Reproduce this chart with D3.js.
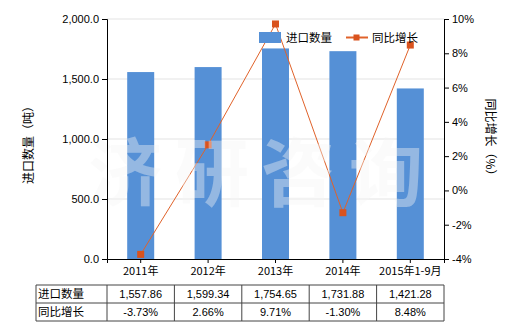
<!DOCTYPE html>
<html><head><meta charset="utf-8">
<script src="https://cdn.jsdelivr.net/npm/d3@7"></script>
<style>body{margin:0;background:#fff}svg{display:block}</style>
</head><body>
<svg id="c" width="520" height="330"></svg>
<script>
const categories = ["2011年","2012年","2013年","2014年","2015年1-9月"];
const importQty = [1557.86,1599.34,1754.65,1731.88,1421.28];
const yoyGrowth = [-3.73,2.66,9.71,-1.30,8.48];
const qtyLabels = ["1,557.86","1,599.34","1,754.65","1,731.88","1,421.28"];
const growthLabels = ["-3.73%","2.66%","9.71%","-1.30%","8.48%"];
const leftTicks = [0,500,1000,1500,2000];
const rightTicks = [-4,-2,0,2,4,6,8,10];
const seriesNames = ["进口数量","同比增长"];

const svg = d3.select("#c");
const m = {l:107, r:444, t:19, b:259};
const numFont = "Liberation Sans, Arial, sans-serif";
const cjkFont = "Noto Sans CJK SC, sans-serif";
const barColor = "#5590d6", lineColor = "#e0622a", markColor = "#d9531e";

const xc = d3.scaleBand().domain(categories).range([m.l, m.r]);
const yL = d3.scaleLinear().domain([0,2000]).range([m.b, m.t]);
const yR = d3.scaleLinear().domain([-4,10]).range([m.b, m.t]);

// gridlines
svg.append("g").selectAll("line").data(leftTicks.slice(1)).join("line")
  .attr("x1", m.l).attr("x2", m.r).attr("y1", d=>yL(d)).attr("y2", d=>yL(d))
  .attr("stroke", "#e3e3e3").attr("stroke-width", 1);

// bars
const bw = 27;
svg.append("g").selectAll("rect").data(importQty).join("rect")
  .attr("x", (d,i)=>xc(categories[i]) + xc.bandwidth()/2 - bw/2)
  .attr("width", bw)
  .attr("y", d=>yL(d)).attr("height", d=>m.b - yL(d))
  .attr("fill", barColor);

// line
const cx = i => xc(categories[i]) + xc.bandwidth()/2;
svg.append("path").datum(yoyGrowth)
  .attr("d", d3.line().x((d,i)=>cx(i)).y(d=>yR(d)))
  .attr("fill","none").attr("stroke", lineColor).attr("stroke-width", 1);
svg.append("g").selectAll("rect").data(yoyGrowth).join("rect")
  .attr("x",(d,i)=>cx(i)-3.5).attr("y", d=>yR(d)-3.5)
  .attr("width",7).attr("height",7).attr("fill", markColor);

// watermark
const wm = ["济","研","咨","询"], wmx = [125,212,298,386];
svg.append("g").selectAll("text").data(wm).join("text")
  .attr("x",(d,i)=>wmx[i]).attr("y",200).attr("text-anchor","middle")
  .attr("font-family", cjkFont).attr("font-weight","bold").attr("font-size",74)
  .attr("fill","#f5f5f5").attr("fill-opacity",0.4).text(d=>d);

// axes
function styleAxis(g){
  g.selectAll("path").attr("stroke","#000");
  g.selectAll("line").attr("stroke","#000");
  g.selectAll("text").attr("font-family", numFont).attr("font-size",11).attr("fill","#000");
}
svg.append("g").attr("transform",`translate(${m.l},0)`)
  .call(d3.axisLeft(yL).tickValues(leftTicks).tickFormat(d3.format(",.1f")).tickSizeOuter(0).tickSize(5).tickPadding(3))
  .call(styleAxis);
svg.append("g").attr("transform",`translate(${m.r},0)`)
  .call(d3.axisRight(yR).tickValues(rightTicks).tickFormat(d=>d+"%").tickSizeOuter(0).tickSize(5).tickPadding(3))
  .call(styleAxis);
const xa = svg.append("g").attr("transform",`translate(0,${m.b})`)
  .call(d3.axisBottom(xc).tickSizeOuter(0).tickSize(4).tickPadding(3))
  .call(styleAxis);
xa.selectAll("text").attr("font-family", cjkFont).attr("font-size",11).attr("dy","0.85em");

// axis titles
svg.append("text").attr("transform","translate(33,142) rotate(-90)").attr("text-anchor","middle")
  .attr("font-family",cjkFont).attr("font-size",12).text("进口数量（吨）");
svg.append("text").attr("transform","translate(486,140) rotate(90)").attr("text-anchor","middle")
  .attr("font-family",cjkFont).attr("font-size",12).text("同比增长（%）");

// legend
const lg = svg.append("g");
lg.append("rect").attr("x",259).attr("y",32).attr("width",22).attr("height",11).attr("fill",barColor);
lg.append("text").attr("x",286).attr("y",42).attr("font-family",cjkFont).attr("font-size",11.5).text(seriesNames[0]);
lg.append("line").attr("x1",346).attr("x2",368).attr("y1",37.5).attr("y2",37.5).attr("stroke",lineColor).attr("stroke-width",2);
lg.append("rect").attr("x",353.5).attr("y",34.5).attr("width",6).attr("height",6).attr("fill",markColor);
lg.append("text").attr("x",372).attr("y",42).attr("font-family",cjkFont).attr("font-size",11.5).text(seriesNames[1]);

// table
const tLeft = 36, rowTop = 285, rowH = 18;
const tb = svg.append("g");
const xs = [tLeft, m.l].concat(categories.map(c=>xc(c)+xc.bandwidth()));
const ys = [rowTop, rowTop+rowH, rowTop+2*rowH];
ys.forEach(yv=>tb.append("line").attr("x1",tLeft).attr("x2",xs[xs.length-1]).attr("y1",yv).attr("y2",yv).attr("stroke","#444").attr("stroke-width",1));
xs.forEach(xv=>tb.append("line").attr("x1",xv).attr("x2",xv).attr("y1",ys[0]).attr("y2",ys[2]).attr("stroke","#444").attr("stroke-width",1));
const rows = [[seriesNames[0], qtyLabels],[seriesNames[1], growthLabels]];
rows.forEach((r,ri)=>{
  const yv = rowTop + ri*rowH + 13;
  tb.append("text").attr("x",tLeft+2).attr("y",yv).attr("font-family",cjkFont).attr("font-size",11.5).text(r[0]);
  tb.selectAll(null).data(r[1]).join("text")
    .attr("x",(d,i)=>cx(i)).attr("y",yv).attr("text-anchor","middle")
    .attr("font-family",numFont).attr("font-size",11).text(d=>d);
});
</script>
</body></html>
